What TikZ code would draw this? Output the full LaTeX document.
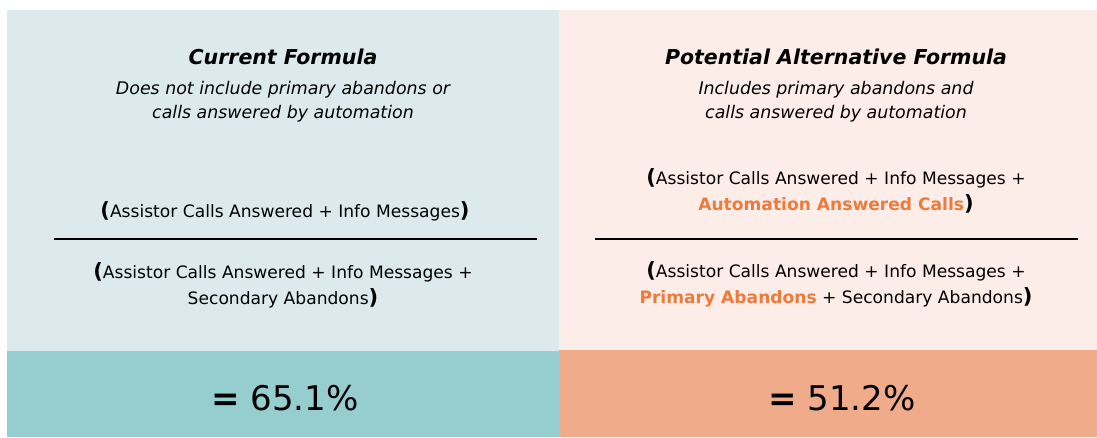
\documentclass[tikz,border=0pt]{standalone}
\usepackage{fontspec}
\setmainfont{DejaVu Sans}
\usepackage{tikz}
\usetikzlibrary{positioning}
\definecolor{curbg}{HTML}{DCEAED}
\definecolor{curband}{HTML}{96CDCE}
\definecolor{altbg}{HTML}{FCEDE8}
\definecolor{altband}{HTML}{F0AC8A}
\definecolor{hilite}{HTML}{EE7A3C}
\newcommand{\lp}{{\fontsize{21}{21}\selectfont\bfseries(}}
\newcommand{\rp}{{\fontsize{21}{21}\selectfont\bfseries)}}
\newcommand{\hl}[1]{{\color{hilite}\bfseries #1}}

\begin{document}
\begin{tikzpicture}[x=1pt, y=-1pt]
\tikzset{Title/.style={font=\fontsize{20.5}{25}\selectfont\bfseries\itshape, inner sep=0pt}}
\tikzset{Note/.style={font=\fontsize{17.4}{24}\selectfont\itshape, align=center, inner sep=0pt}}
\tikzset{Term/.style={font=\fontsize{17.1}{26}\selectfont, align=center, inner sep=0pt}}
\tikzset{Result/.style={font=\fontsize{34}{40}\selectfont, inner sep=0pt}}
\tikzset{Bar/.style={line width=2.8pt}}

\useasboundingbox (0,0) rectangle (1097,437);

% panels
\fill[curbg] (7,10) rectangle (559,351);
\fill[curband] (7,351) rectangle (559,437);
\fill[altbg] (559,10) rectangle (1097,350);
\fill[altband] (559,350) rectangle (1097,437);

% current formula
\node[Title] (t1) at (283,57) {Current Formula};
\node[Note] (n1) at (283,102) {Does not include primary abandons or\\calls answered by automation};
\node[Term] (num1) at (285,211) {\lp Assistor Calls Answered + Info Messages\rp};
\node[Term] (den1) at (283,285) {\lp Assistor Calls Answered + Info Messages +\\Secondary Abandons\rp};
\node[Result] (res1) at (285,398) {{\bfseries=} 65.1\%};

% alternative formula
\node[Title] (t2) at (836,57) {Potential Alternative Formula};
\node[Note] (n2) at (836,102) {Includes primary abandons and\\calls answered by automation};
\node[Term] (num2) at (836,191) {\lp Assistor Calls Answered + Info Messages +\\\hl{Automation Answered Calls}\rp};
\node[Term] (den2) at (836,284) {\lp Assistor Calls Answered + Info Messages +\\\hl{Primary Abandons} + Secondary Abandons\rp};
\node[Result] (res2) at (842,398) {{\bfseries=} 51.2\%};

% fraction bars
\coordinate (b1l) at (54,239);
\coordinate (b1r) at (537,239);
\coordinate (b2l) at (595,239);
\coordinate (b2r) at (1078,239);
\draw[Bar] (b1l) -- (b1r);
\draw[Bar] (b2l) -- (b2r);
\end{tikzpicture}
\end{document}
